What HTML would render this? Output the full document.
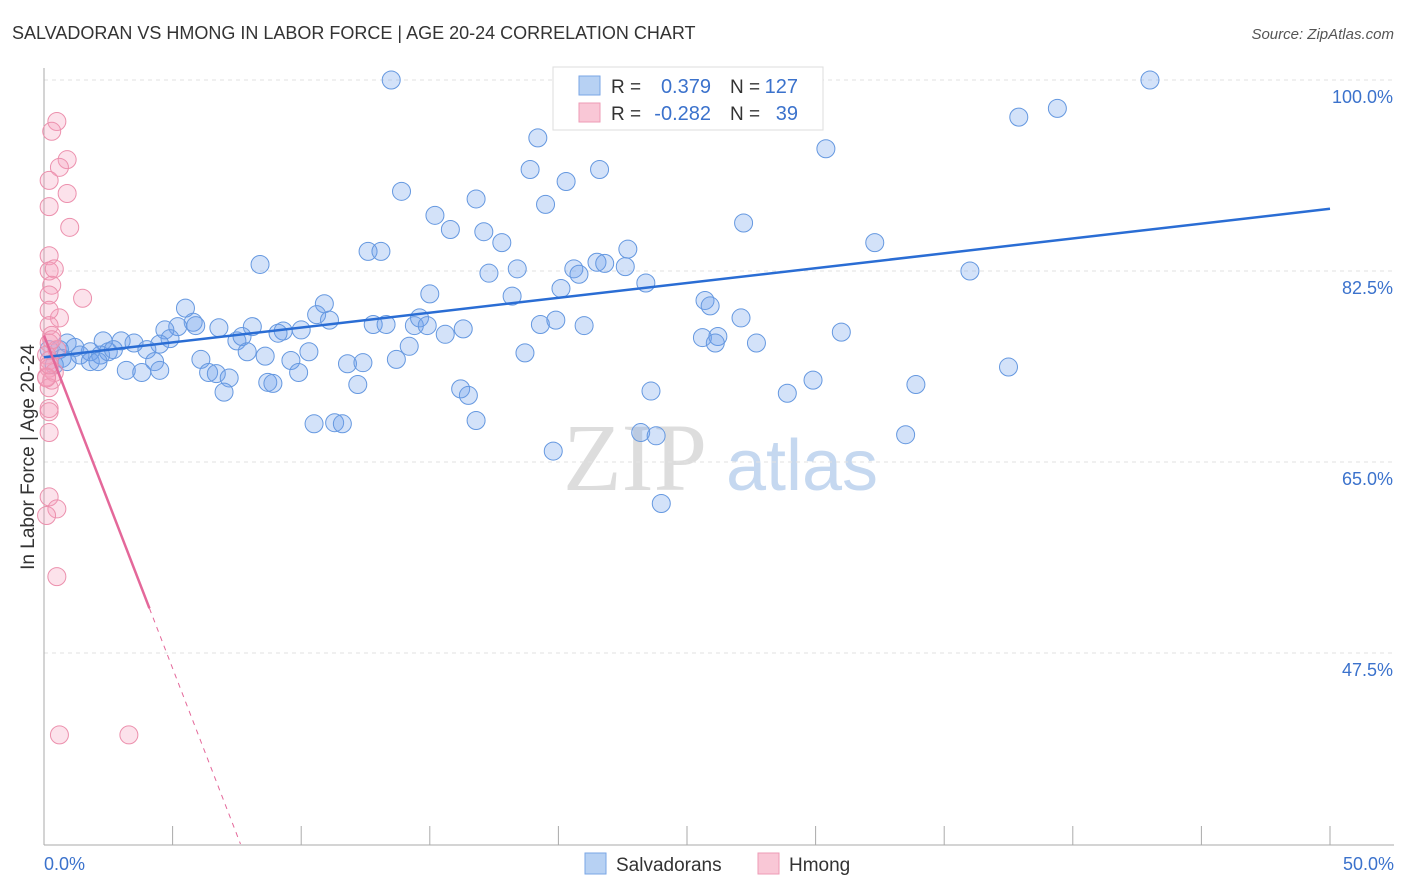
<!DOCTYPE html>
<html><head><meta charset="utf-8"><style>
body{margin:0;background:#fff;font-family:"Liberation Sans",sans-serif}
svg{display:block}
</style></head><body>
<svg id="chart" width="1406" height="892">
<text x="12" y="39" font-size="18" fill="#333">SALVADORAN VS HMONG IN LABOR FORCE | AGE 20-24 CORRELATION CHART</text>
<text x="1394" y="39" font-size="15" fill="#555" text-anchor="end" font-style="italic">Source: ZipAtlas.com</text>
<g>
<text x="635" y="490" font-size="96" font-family="Liberation Serif,serif" fill="#ddd" text-anchor="middle">ZIP</text>
<text x="802" y="490" font-size="72" fill="#c5d8f0" text-anchor="middle">atlas</text>
</g>
<g id="grid"></g>
<g id="axes"></g>
<g id="pts"></g>
<g id="trend"></g>
<text transform="translate(34,457) rotate(-90)" font-size="19" fill="#333" text-anchor="middle">In Labor Force | Age 20-24</text>
<g>
<rect x="553" y="67" width="270" height="63" fill="#fff" stroke="#ddd"/>
<rect x="579" y="76" width="21" height="19" fill="#b7d1f3" stroke="#7aa6e6"/>
<rect x="579" y="103" width="21" height="19" fill="#f9c7d6" stroke="#ee9bb6"/>
<text x="611" y="93" font-size="19" fill="#333">R =</text>
<text x="711" y="93" font-size="20" fill="#3b72cc" text-anchor="end">0.379</text>
<text x="730" y="93" font-size="19" fill="#333">N =</text>
<text x="798" y="93" font-size="20" fill="#3b72cc" text-anchor="end">127</text>
<text x="611" y="120" font-size="19" fill="#333">R =</text>
<text x="711" y="120" font-size="20" fill="#3b72cc" text-anchor="end">-0.282</text>
<text x="730" y="120" font-size="19" fill="#333">N =</text>
<text x="798" y="120" font-size="20" fill="#3b72cc" text-anchor="end">39</text>
</g>
<g>
<rect x="585" y="853" width="21" height="21" fill="#b7d1f3" stroke="#7aa6e6"/>
<text x="616" y="871" font-size="19" fill="#333">Salvadorans</text>
<rect x="758" y="853" width="21" height="21" fill="#f9c7d6" stroke="#ee9bb6"/>
<text x="789" y="871" font-size="19" fill="#333">Hmong</text>
</g>
</svg>
<script>
const blueX=[13.5,43.0,25.0,27.5,39.4,37.9,19.2,30.4,13.9,18.9,20.3,21.6,16.8,19.5,15.2,15.8,17.1,27.2,17.8,22.7,12.6,13.1,32.3,8.4,17.3,18.4,20.6,21.5,21.8,22.6,20.8,36.0,23.4,20.1,15.0,18.2,5.5,10.9,25.7,25.9,10.6,11.1,27.1,5.8,5.2,4.7,5.9,6.8,8.1,9.3,10.0,9.1,12.8,13.3,14.4,14.6,14.9,16.3,15.6,19.3,19.9,21.0,31.0,7.5,7.7,4.9,2.3,3.0,3.5,4.5,25.6,26.2,26.1,27.7,0.9,1.2,1.8,2.2,2.5,4.0,2.7,1.4,7.9,8.6,10.3,14.2,18.7,0.7,0.9,1.8,2.1,0.4,4.3,6.1,9.6,11.8,12.4,13.7,3.2,3.8,4.5,6.4,6.7,7.2,9.9,8.7,8.9,12.2,16.2,16.5,23.6,28.9,29.9,33.9,37.5,7.0,10.5,11.3,11.6,16.8,23.2,23.8,33.5,19.8,24.0,0.6,0.2];
const blueY=[100,100,100,97.3,97.4,96.6,94.7,93.7,89.8,91.8,90.7,91.8,89.1,88.6,87.6,86.3,86.1,86.9,85.1,84.5,84.3,84.3,85.1,83.1,82.3,82.7,82.7,83.3,83.2,82.9,82.2,82.5,81.4,80.9,80.4,80.2,79.1,79.5,79.8,79.3,78.5,78.0,78.2,77.8,77.4,77.1,77.5,77.3,77.4,77.0,77.1,76.8,77.6,77.6,77.5,78.2,77.5,77.2,76.7,77.6,78.0,77.5,76.9,76.1,76.5,76.3,76.1,76.1,75.9,75.8,76.4,76.5,75.9,75.9,75.9,75.5,75.1,74.8,75.1,75.3,75.3,74.8,75.1,74.7,75.1,75.6,75.0,74.5,74.2,74.2,74.2,73.9,74.2,74.4,74.3,74.0,74.1,74.4,73.4,73.2,73.4,73.2,73.1,72.7,73.2,72.3,72.2,72.1,71.7,71.1,71.5,71.3,72.5,72.1,73.7,71.4,68.5,68.6,68.5,68.8,67.7,67.4,67.5,66.0,61.2,75.3,75.3];
const pinkX=[0.5,0.3,0.9,0.6,0.2,0.9,0.2,1.0,0.2,0.2,0.4,0.3,0.2,1.5,0.6,0.2,0.2,0.3,0.2,0.5,0.1,0.2,0.2,0.4,0.1,0.3,0.2,0.2,0.2,0.2,0.2,0.5,0.1,0.5,0.6,3.3,0.1,0.2,0.3];
const pinkY=[96.2,95.3,92.7,92.0,90.8,89.6,88.4,86.5,83.9,82.5,82.7,81.2,80.3,80.0,78.2,78.9,77.5,76.6,75.9,75.3,74.8,74.3,73.6,73.2,72.8,72.5,71.8,69.9,69.6,67.7,61.8,60.7,60.1,54.5,40.0,40.0,72.7,73.9,76.2];
const blueTrend=[74.6,88.2];
const pinkTrend=[76.6,-6.1];
const yTicks=[100,82.5,65,47.5];
const xTickVals=[0,5,10,15,20,25,30,35,40,45,50];

const NS="http://www.w3.org/2000/svg";
const sx=v=>44+v/50*1286;
const sy=v=>80+(100-v)/17.5*191;
function mk(tag,attrs,parent){const e=document.createElementNS(NS,tag);for(const k in attrs)e.setAttribute(k,attrs[k]);parent.appendChild(e);return e;}
const grid=document.getElementById('grid'),axes=document.getElementById('axes'),pts=document.getElementById('pts'),trend=document.getElementById('trend');
yTicks.forEach(t=>{
  const l=mk('line',{x1:44,x2:1394,y1:sy(t),y2:sy(t),stroke:'#e2e2e2','stroke-dasharray':'4,4'},grid);
  
  
  const tx=mk('text',{x:1393,y:sy(t)+23,'font-size':18,fill:'#3b72cc','text-anchor':'end'},grid);
  tx.textContent=t.toFixed(1)+'%';
  
  
});
const ax=mk('line',{x1:44,x2:44,y1:68,y2:845,stroke:'#aaa'},axes);


const bx=mk('line',{x1:44,x2:1394,y1:845,y2:845,stroke:'#aaa'},axes);


xTickVals.forEach(v=>{
  const t=mk('line',{x1:sx(v),x2:sx(v),y1:826,y2:845,stroke:'#aaa'},axes);
  
  
});
[[0,'start',44],[50,'end',1394]].forEach(([v,a,x])=>{
  const t=mk('text',{x:x,y:870,'font-size':18,fill:'#3b72cc','text-anchor':a},axes);
  t.textContent=v.toFixed(1)+'%';
  
  
});
blueX.forEach((x,i)=>{
  const c=mk('circle',{cx:sx(x),cy:sy(blueY[i]),r:9,fill:'rgba(110,160,235,0.3)',stroke:'#6598e0','stroke-width':1},pts);
  
  
});
pinkX.forEach((x,i)=>{
  const c=mk('circle',{cx:sx(x),cy:sy(pinkY[i]),r:9,fill:'rgba(245,160,190,0.3)',stroke:'#ec90ad','stroke-width':1},pts);
  
  
});
const bl=mk('line',{x1:sx(0),y1:sy(blueTrend[0]),x2:sx(50),y2:sy(blueTrend[1]),stroke:'#2a6dd4','stroke-width':2.5},trend);


const pf=x=>pinkTrend[0]+pinkTrend[1]*x;
const xEnd=(30-pinkTrend[0])/pinkTrend[1];
const p1=mk('line',{x1:sx(0),y1:sy(pf(0)),x2:sx(4.1),y2:sy(pf(4.1)),stroke:'#e4689a','stroke-width':2.5},trend);


const p2=mk('line',{x1:sx(4.1),y1:sy(pf(4.1)),x2:sx(xEnd),y2:sy(pf(xEnd)),stroke:'#e4689a','stroke-width':1,'stroke-dasharray':'5,5'},trend);


</script>
</body></html>
